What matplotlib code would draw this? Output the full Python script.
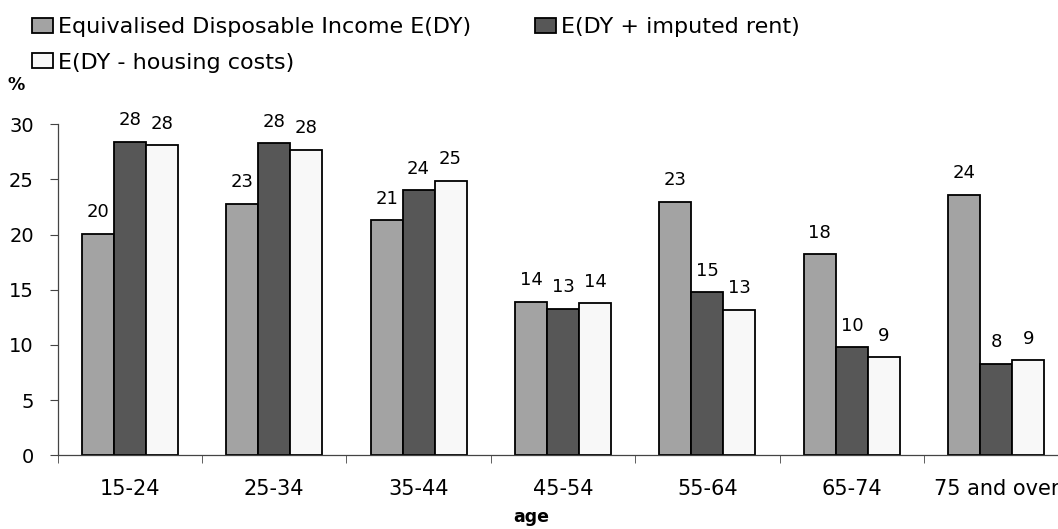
import matplotlib.pyplot as plt
import numpy as np

plt.rcParams['font.family'] = ['DejaVu Sans']

ages = ["15-24", "25-34", "35-44", "45-54", "55-64", "65-74", "75 and over"]
edy = [20.1, 22.8, 21.3, 13.9, 23.0, 18.2, 23.6]
edy_rent = [28.4, 28.3, 24.0, 13.3, 14.8, 9.8, 8.3]
edy_housing = [28.1, 27.7, 24.9, 13.8, 13.2, 8.9, 8.6]

series = [
    ("Equivalised Disposable Income E(DY)", edy, "#a3a3a3"),
    ("E(DY + imputed rent)", edy_rent, "#575757"),
    ("E(DY - housing costs)", edy_housing, "#f8f8f8"),
]

W, H = 1058, 529
fig = plt.figure(figsize=(W / 100, H / 100), dpi=100)
ax = fig.add_axes([57.5 / W, 73.7 / H, 1011 / W, 331 / H])

x = np.arange(len(ages))
w = 0.2215
bars = []
for i, (name, vals, col) in enumerate(series):
    pos = x + (i - 1) * w
    b = ax.bar(pos, vals, width=w, color=col, edgecolor="black", linewidth=1.3,
               label=name)
    bars.append(b)
    for px, v in zip(pos, vals):
        ax.annotate(f"{v:.0f}", (px, v), xytext=(0, 9), textcoords="offset points",
                    ha="center", va="bottom", fontsize=13, clip_on=False)

ax.set_xlim(-0.5, len(ages) - 0.5)
ax.set_ylim(0, 30)
ax.set_yticks(range(0, 31, 5))
ax.set_xticks(x)
ax.set_xticklabels(ages)
ax.set_xticks(np.arange(len(ages) + 1) - 0.5, minor=True)
ax.tick_params(axis="x", which="major", length=0, pad=17, labelsize=15)
ax.tick_params(axis="x", which="minor", length=6, direction="out", color="#444444")
ax.tick_params(axis="y", length=6, color="#444444", labelsize=14, pad=11)

for s in ["top", "right"]:
    ax.spines[s].set_visible(False)
for s in ["left", "bottom"]:
    ax.spines[s].set_color("#444444")
    ax.spines[s].set_linewidth(0.9)

fig.text(531 / W, 1 - 517 / H, "age", fontsize=12.5, fontweight="bold",
         ha="center", va="center")
fig.text(16 / W, 1 - 85 / H, "%", fontsize=12.5, fontweight="bold",
         ha="center", va="center")

# column-first fill: gray and white in the first column, dark in the second
handles = [bars[0], bars[2], bars[1]]
labels = [series[0][0], series[2][0], series[1][0]]
fig.legend(handles, labels, ncol=2, loc="upper left",
           bbox_to_anchor=(32 / W, 1 - 17 / H), frameon=False,
           fontsize=16, handlelength=0.95, handleheight=0.68,
           handletextpad=0.2, columnspacing=2.9, labelspacing=0.7,
           borderaxespad=0, borderpad=0)

fig.savefig("out.png", dpi=100)
